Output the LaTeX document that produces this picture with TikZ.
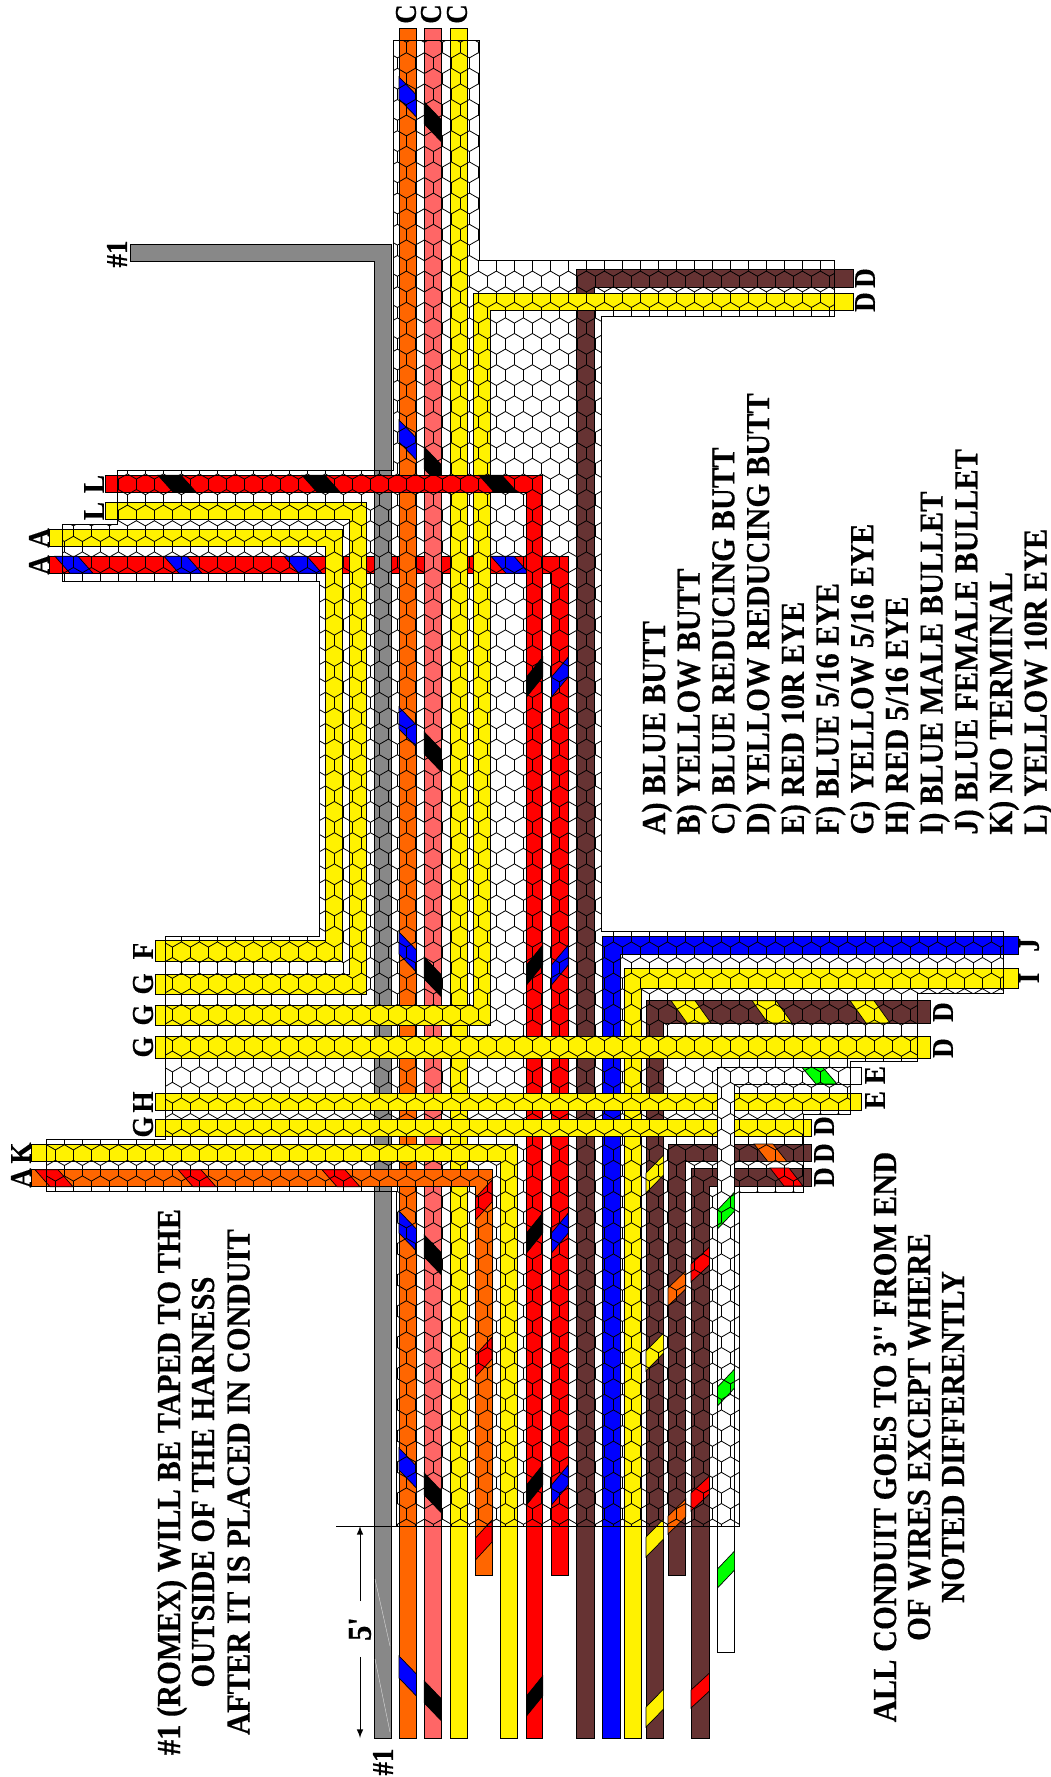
\documentclass[tikz,border=0pt]{standalone}
\usepackage{fontspec}
\setmainfont[BoldFeatures={FakeBold=0.4}]{Liberation Serif}
\usetikzlibrary{arrows}
\definecolor{wireorange}{HTML}{FF6600}
\definecolor{wiresalmon}{HTML}{FF6666}
\definecolor{wirebrown}{HTML}{663333}
\definecolor{wiregray}{HTML}{888888}
\tikzset{
  wire/.style={draw=black,line width=0.5pt},
  band/.style={draw=black,line width=0.35pt},
  hexline/.style={draw=black,line width=0.4pt},
  conduit/.style={draw=black,line width=0.5pt},
  wirelabel/.style={font=\fontsize{13.5}{13.5}\selectfont\bfseries,rotate=90,yscale=1.12,inner sep=0pt},
  bigtext/.style={font=\fontsize{15.25}{15.25}\selectfont\bfseries,rotate=90,yscale=1.1,inner sep=0pt}
}
\newcommand{\bandv}[6]{\filldraw[band,fill=#1] (#2,#4) -- (#3,#4+#5) -- (#3,#4+#5+#6) -- (#2,#4+#6) -- cycle;}
\newcommand{\bandh}[6]{\filldraw[band,fill=#1] (#4,#2) -- (#4+#6,#2) -- (#4+#5+#6,#3) -- (#4+#5,#3) -- cycle;}
\begin{document}
\begin{tikzpicture}[>=latex,x=0.5pt,y=-0.5pt]
  \useasboundingbox (0,0) rectangle (1050,1777);

  \filldraw[wire,fill=red] (49.7,556.3) -- (568.3,556.3) -- (568.3,1575) -- (551.5,1575) -- (551.5,573.3) -- (49.7,573.3) -- cycle;
  \foreach \x in {55,164,284,491} {\bandh{blue}{556.3}{573.3}{\x}{15}{23}}
  \foreach \y in {677,965,1233,1485} {\bandv{blue}{551.5}{568.3}{\y}{-20}{20}}

  \filldraw[wire,fill=wiregray] (130,244.3) -- (391.5,244.3) -- (391.5,1738) -- (374.6,1738) -- (374.6,261.7) -- (130,261.7) -- cycle;
  \draw[white!70!wiregray,line width=0.2pt] (375,1579) -- (390,1646) (375,1659) -- (390,1732);

  \filldraw[wire,fill=wireorange] (399,28.3) rectangle (416.4,1738);
  \foreach \y in {77,420,707,932,1211,1448,1656} {\bandv{blue}{399}{416.4}{\y}{18}{22}}
  \filldraw[wire,fill=wiresalmon] (424.3,28.3) rectangle (441.5,1738);
  \foreach \y in {102,447,732,957,1235,1473,1681} {\bandv{black}{424.3}{441.5}{\y}{18}{22}}
  \filldraw[wire,fill=yellow] (450.5,28.3) rectangle (467.4,1738);

  \filldraw[wire,fill=wirebrown] (853,269.3) -- (576.8,269.3) -- (576.8,1738) -- (594,1738) -- (594,287) -- (853,287) -- cycle;

  \filldraw[wire,fill=yellow] (49.7,529.3) -- (342,529.3) -- (342,961.7) -- (155,961.7) -- (155,940.7) -- (325.5,940.7) -- (325.5,546.7) -- (49.7,546.7) -- cycle;
  \filldraw[wire,fill=yellow] (105.6,502.3) -- (366,502.3) -- (366,994) -- (155,994) -- (155,974) -- (349.5,974) -- (349.5,519.3) -- (105.6,519.3) -- cycle;
  \filldraw[wire,fill=yellow] (853,293.3) -- (473.7,293.3) -- (473.7,1005) -- (155,1005) -- (155,1025) -- (490.5,1025) -- (490.5,310.7) -- (853,310.7) -- cycle;

  \filldraw[wire,fill=red] (105.6,475.3) -- (542.7,475.3) -- (542.7,1738) -- (526.5,1738) -- (526.5,492) -- (105.6,492) -- cycle;
  \foreach \x in {158,302,479} {\bandh{black}{475.3}{492}{\x}{15}{23}}
  \foreach \y in {677,965,1233,1485,1696} {\bandv{black}{526.5}{542.7}{\y}{-20}{20}}

  \filldraw[wire,fill=blue] (1018,936) -- (602,936) -- (602,1738) -- (620,1738) -- (620,954) -- (1018,954) -- cycle;
  \filldraw[wire,fill=yellow] (1018,968) -- (624.4,968) -- (624.4,1738) -- (641,1738) -- (641,988.7) -- (1018,988.7) -- cycle;

  \filldraw[wire,fill=wirebrown] (930.4,1000.7) -- (646,1000.7) -- (646,1738) -- (663.6,1738) -- (663.6,1023) -- (930.4,1023) -- cycle;
  \foreach \x in {671,752,850} {\bandh{yellow}{1000.7}{1023}{\x}{16}{24}}
  \foreach \y in {1173,1351,1537,1707} {\bandv{yellow}{646}{663.6}{\y}{-18}{20}}

  \filldraw[wire,fill=wirebrown] (811.6,1144) -- (668,1144) -- (668,1575) -- (685.7,1575) -- (685.7,1161.7) -- (811.6,1161.7) -- cycle;
  \bandh{wireorange}{1144}{1161.7}{754}{14}{19}
  \foreach \y in {1288,1516} {\bandv{wireorange}{668}{685.7}{\y}{-17}{18}}

  \filldraw[wire,fill=wirebrown] (811.6,1168) -- (691,1168) -- (691,1738) -- (709.5,1738) -- (709.5,1186) -- (811.6,1186) -- cycle;
  \bandh{red}{1168}{1186}{770}{14}{19}
  \foreach \y in {1264,1493,1690} {\bandv{red}{691}{709.5}{\y}{-17}{18}}

  \filldraw[wire,fill=yellow] (155,1036.7) rectangle (930,1058);
  \filldraw[wire,fill=yellow] (155,1093.5) rectangle (861,1110);
  \filldraw[wire,fill=yellow] (155,1119) rectangle (811.6,1136);

  \filldraw[wire,fill=white] (861,1067.5) -- (717.5,1067.5) -- (717.5,1652) -- (734.6,1652) -- (734.6,1084) -- (861,1084) -- cycle;
  \bandh{green}{1067.5}{1084}{802}{14}{21}
  \foreach \y in {1210,1387,1569} {\bandv{green}{717.5}{734.6}{\y}{-18}{19}}

  \filldraw[wire,fill=yellow] (31.5,1144) -- (517.6,1144) -- (517.6,1738) -- (500.5,1738) -- (500.5,1161.7) -- (31.5,1161.7) -- cycle;
  \filldraw[wire,fill=wireorange] (31.5,1169.7) -- (492,1169.7) -- (492,1575) -- (475.4,1575) -- (475.4,1186.7) -- (31.5,1186.7) -- cycle;
  \foreach \x in {35,178,322} {\bandh{red}{1169.7}{1186.7}{\x}{15}{23}}
  \foreach \y in {1198,1355,1538} {\bandv{red}{475.4}{492}{\y}{-18}{22}}

  \begin{scope}
    \clip (393.5,41) -- (393.5,470.7) -- (117.9,470.7) -- (117.9,524.3) -- (62.4,524.3) -- (62.4,581.3) -- (319.6,581.3) -- (319.6,936.7) -- (165.7,936.7) -- (165.7,1139) -- (46,1139) -- (46,1191.7) -- (396,1191.7) -- (396,1526) -- (739.5,1526) -- (739.5,1192) -- (803.5,1192) -- (803.5,1114) -- (850.7,1114) -- (850.7,1061.7) -- (917.7,1061.7) -- (917.7,993) -- (1003.7,993) -- (1003.7,931) -- (601.5,931) -- (601.5,316.7) -- (834.3,316.7) -- (834.3,260.7) -- (479,260.7) -- (479,41) -- cycle;
    \foreach \r in {-1,...,96} {
      \pgfmathsetmacro{\cy}{47.5+15.6*\r}
      \pgfmathsetmacro{\sx}{37.4+9*mod(\r+2,2)}
      \draw[hexline] \foreach \k in {0,...,54} {
        ({\sx+18*\k-9},{\cy+5.2}) -- ({\sx+18*\k-9},{\cy-5.2}) -- ({\sx+18*\k},{\cy-10.4}) -- ({\sx+18*\k+9},{\cy-5.2})
      };
    }
  \end{scope}
  \draw[conduit] (396,1526) -- (396,1191.7) -- (46,1191.7) -- (46,1139) -- (165.7,1139) -- (165.7,936.7) -- (319.6,936.7) -- (319.6,581.3) -- (62.4,581.3) -- (62.4,524.3) -- (117.9,524.3) -- (117.9,470.7) -- (393.5,470.7) -- (393.5,41) -- (479,41) -- (479,260.7) -- (834.3,260.7) -- (834.3,316.7) -- (601.5,316.7) -- (601.5,931) -- (1003.7,931) -- (1003.7,993) -- (917.7,993) -- (917.7,1061.7) -- (850.7,1061.7) -- (850.7,1114) -- (803.5,1114) -- (803.5,1192) -- (739.5,1192) -- (739.5,1526);

  \coordinate (dimleft) at (336,1526);
  \coordinate (dimright) at (740,1526);
  \coordinate (dimtop) at (360,1526);
  \coordinate (dimbottom) at (360,1738);
  \draw[line width=0.5pt] (dimleft) -- (dimright);
  \node[bigtext,outer sep=8pt] (fivefeet) at (360,1629) {5\textquotesingle};
  \draw[->,line width=0.5pt] (fivefeet) -- (dimtop);
  \draw[->,line width=0.5pt] (fivefeet) -- (dimbottom);

  \foreach \x/\y/\t/\n in {406/14/C/c1,431/14/C/c2,457/14/C/c3,117/254/\#1/rom1,383/1762/\#1/rom2,
    94/484/L/l1,94/511/L/l2,39/538/A/a1,39/565/A/a2,143/951/F/f1,143/984/G/g1,143/1015/G/g2,143/1047/G/g3,
    143/1102/H/h1,143/1127/G/g4,21/1153/K/k1,21/1178/A/a3,865/278/D/d1,865/302/D/d2,1029/945/J/j1,1029/978/I/i1,
    943/1012/D/d3,943/1048/D/d4,875/1075/E/e1,875/1100/E/e2,824/1126/D/d5,824/1153/D/d6,824/1177/D/d7}
    {\node[wirelabel] (lab\n) at (\x,\y) {\t};}

  \node[bigtext,anchor=base] (romexa) at (180,1482) {\#1 (ROMEX) WILL BE TAPED TO THE};
  \node[bigtext,anchor=base] (romexb) at (214,1482) {OUTSIDE OF THE HARNESS};
  \node[bigtext,anchor=base] (romexc) at (249.5,1482) {AFTER IT IS PLACED IN CONDUIT};
  \node[bigtext,anchor=base] (notea) at (896,1437) {ALL CONDUIT GOES TO 3\textquotesingle\textquotesingle{} FROM END};
  \node[bigtext,anchor=base] (noteb) at (930,1437) {OF WIRES EXCEPT WHERE};
  \node[bigtext,anchor=base] (notec) at (964,1437) {NOTED DIFFERENTLY};

  \foreach \t [count=\i from 0] in {A) BLUE BUTT,B) YELLOW BUTT,C) BLUE REDUCING BUTT,D) YELLOW REDUCING BUTT,E) RED 10R EYE,F) BLUE 5/16 EYE,G) YELLOW 5/16 EYE,H) RED 5/16 EYE,I) BLUE MALE BULLET,J) BLUE FEMALE BULLET,K) NO TERMINAL,L) YELLOW 10R EYE}
    {\node[bigtext,anchor=base west] (key\i) at ({665+34.7*\i},835) {\t};}
\end{tikzpicture}
\end{document}
